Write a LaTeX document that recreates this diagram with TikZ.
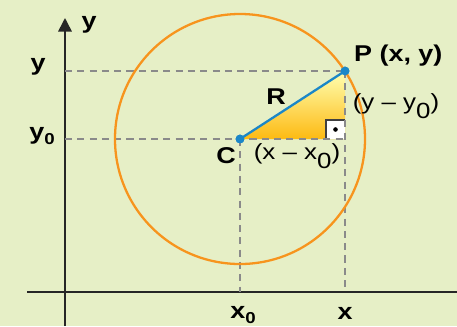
\documentclass[tikz,border=0pt]{standalone}
\usepackage{fontspec}
\setmainfont{Liberation Sans}
\newfontfamily\widesans[FakeStretch=1.18]{Liberation Sans}
\usepackage{tikz}
\usetikzlibrary{positioning,arrows.meta,calc}
\definecolor{bggreen}{HTML}{E6EFC6}
\definecolor{circorange}{HTML}{F7941D}
\definecolor{radblue}{HTML}{1B87C8}
\definecolor{dashgray}{HTML}{8A8A8A}
\definecolor{triyellow}{HTML}{FFEA00}
\definecolor{triorange}{HTML}{FDBA12}
\newcommand{\lowsub}[1]{\raisebox{-0.45ex}{\small #1}}
\newcommand{\deepsub}[1]{\raisebox{-0.75ex}{#1}}

\begin{document}
\begin{tikzpicture}[
  x=0.02cm, y=-0.02cm,
  axis/.style={line width=0.9pt, draw=black!85},
  guide/.style={dash pattern=on 4pt off 3pt, line width=0.8pt, draw=dashgray},
  dot/.style={circle, fill=radblue, inner sep=0pt, minimum size=5pt},
  lbl/.style={font=\widesans\fontsize{13}{15}\selectfont\bfseries, inner sep=1pt},
  delta/.style={font=\widesans\fontsize{12.5}{15}\selectfont, inner sep=1pt}
]
% ---------- background ----------
\fill[bggreen] (0,0) rectangle (457,326);
\useasboundingbox (0,0) rectangle (457,326);
% ---------- points ----------
\coordinate (O) at (65,292);
\coordinate (xl) at (27,292);
\coordinate (xr) at (457,292);
\coordinate (yb) at (65,326);
\coordinate (yt) at (65,18);
\node[dot] (C) at (240,139) {};
\node[dot] (P) at (345,71) {};
\coordinate (Q) at (P |- C);
% ---------- triangle ----------
\shade[top color=yellow!30, middle color=triyellow!95!white, bottom color=triorange] (C.center) -- (P.center) -- (Q) -- cycle;
\fill[white] (Q) rectangle ++(-19,-19);
\draw[line width=0.7pt, black!75] ($(Q)+(0,-19)$) -- ++(-19,0) -- ++(0,19);
\fill[black] ($(Q)+(-9.5,-9.5)$) circle (1.3pt);
% ---------- axes ----------
\draw[axis] (xl) -- (xr);
\draw[axis, -{Triangle[length=0.27cm, width=0.27cm]}] (yb) -- (yt);
% ---------- guide lines ----------
\draw[guide] (O |- P) -- (P.center);
\draw[guide] (O |- C) -- (Q);
\draw[guide] (C.center) -- (C |- O);
\draw[guide] (P.center) -- (P |- O);
% ---------- circle and radius ----------
\draw[circorange, line width=1.3pt] let \p1=($(P)-(C)$), \n1={veclen(\x1,\y1)} in (C) circle (\n1);
\draw[radblue, line width=1.3pt] (C.center) -- (P.center);
\node[dot] at (C) {};
\node[dot] at (P) {};
% ---------- labels ----------
\node[lbl] (ylab) at (89,25) {y};
\node[lbl] (yP) at (38,67) {y};
\node[lbl] (yC) at (42,136) {y\lowsub{0}};
\node[lbl] (Clab) at (226,156) {C};
\node[lbl] (Rlab) at (276,97) {R};
\node[lbl, anchor=west] (Plab) at (352,56) {P (x, y)};
\node[delta] (dy) at (396,106) {(y – y\deepsub{0})};
\node[delta] (dx) at (297,156) {(x – x\deepsub{0})};
\node[lbl] (x0lab) at (243,315) {x\lowsub{0}};
\node[lbl] (xlab) at (345,313) {x};
\end{tikzpicture}
\end{document}
